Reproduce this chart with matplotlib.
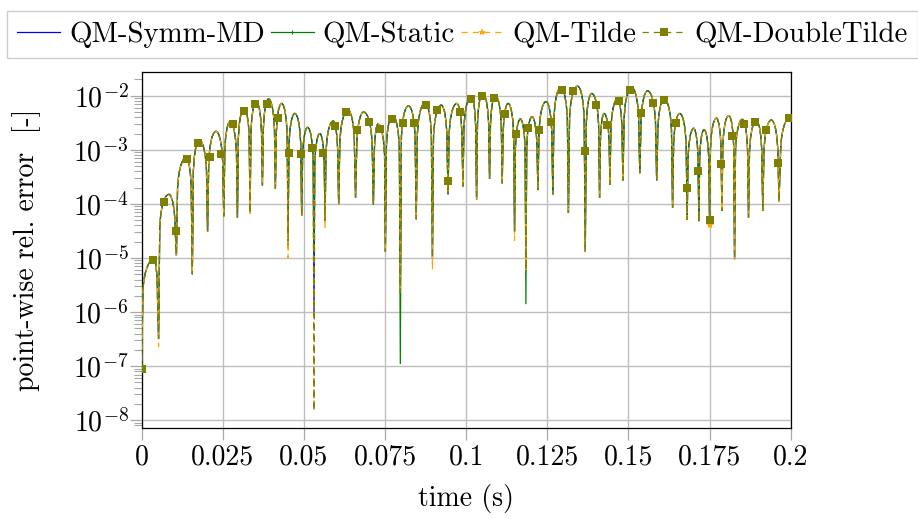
import numpy as np
import matplotlib
matplotlib.use("Agg")
import matplotlib.pyplot as plt
from matplotlib.path import Path
from matplotlib.patches import PathPatch
from matplotlib.lines import Line2D
from matplotlib.ticker import FixedLocator, FixedFormatter, NullFormatter

plt.rcParams['font.family'] = ['serif']
plt.rcParams['font.serif'] = ['cmr10', 'DejaVu Serif']
plt.rcParams['mathtext.fontset'] = 'cm'
plt.rcParams['axes.formatter.use_mathtext'] = True
plt.rcParams['axes.unicode_minus'] = False

# ---------------- data ----------------
# times (s) of the dips between arches
dip_t = [0.0, 0.0052, 0.0107, 0.0156, 0.0203, 0.0253, 0.0295, 0.0334, 0.0372, 0.0412,
         0.0451, 0.0493, 0.0531, 0.0565, 0.0607, 0.0659, 0.0714, 0.0751, 0.0797, 0.0846,
         0.0896, 0.0944, 0.0990, 0.1032, 0.1072, 0.1111, 0.1149, 0.1184, 0.1221, 0.1267,
         0.1315, 0.1367, 0.1411, 0.1443, 0.1483, 0.1535, 0.1587, 0.1636, 0.1681, 0.1717,
         0.1750, 0.1788, 0.1827, 0.1870, 0.1914, 0.1964]
# depth of each dip (QM-DoubleTilde, shared by the others unless overridden)
dip_depth = [9e-8, 3.2e-7, 1.1e-5, 5e-6, 3.1e-5, 5.9e-5, 5.6e-5, 6.7e-5, 2.2e-4, 1.9e-4,
             1.7e-5, 6e-5, 1.5e-8, 4.9e-5, 9.8e-5, 1.3e-4, 9.8e-5, 1.3e-5, 2.3e-6, 5.2e-5,
             1e-5, 1.5e-4, 2.1e-4, 1.2e-4, 2.9e-4, 2.4e-4, 3.1e-5, 6e-6, 1.8e-4, 1.5e-4,
             6.8e-5, 1.3e-5, 1.3e-4, 2.3e-4, 2.7e-4, 3.7e-4, 2.7e-4, 8.5e-5, 5.1e-5, 4.8e-5,
             4.3e-5, 7.4e-5, 9.5e-6, 5.6e-5, 7.4e-5, 1.1e-4]
depth_symm_md = {10: 2.8e-5, 12: 9e-7}
depth_static = {10: 2.8e-5, 12: 1.2e-5, 18: 1.1e-7, 27: 1.4e-6}
depth_tilde = {1: 2.3e-7, 10: 1e-5, 13: 3.6e-5, 20: 6.2e-6, 26: 2.1e-5, 40: 3.8e-5}
depth_dtilde = {}

# top of each arch
peak_t = [0.0038, 0.0084, 0.0137, 0.0178, 0.0229, 0.0272, 0.0316, 0.0353, 0.0391, 0.0431,
          0.0472, 0.0511, 0.0549, 0.0590, 0.0636, 0.0684, 0.0728, 0.0773, 0.0822, 0.0873,
          0.0923, 0.0971, 0.1016, 0.1051, 0.1090, 0.1129, 0.1167, 0.1203, 0.1246, 0.1291,
          0.1343, 0.1387, 0.1425, 0.1466, 0.1510, 0.1559, 0.1610, 0.1658, 0.1701, 0.1733,
          0.1771, 0.1809, 0.1851, 0.1894, 0.1940, 0.2000]
peak_v = [9.5e-6, 1.5e-4, 7.2e-4, 1.5e-3, 2.2e-3, 3.3e-3, 5.9e-3, 7.7e-3, 8.7e-3, 7.2e-3,
          4.7e-3, 2.6e-3, 2.0e-3, 3.4e-3, 5.4e-3, 5.0e-3, 3.0e-3, 4.3e-3, 6.5e-3, 7.3e-3,
          6.7e-3, 7.2e-3, 9.7e-3, 1.1e-2, 1.0e-2, 7.2e-3, 3.7e-3, 4.1e-3, 7.8e-3, 1.4e-2,
          1.5e-2, 1.1e-2, 4.7e-3, 8.7e-3, 1.42e-2, 1.23e-2, 8.7e-3, 4.7e-3, 2.5e-3, 2.35e-3,
          3.85e-3, 4.3e-3, 3.65e-3, 3.45e-3, 3.55e-3, 4.1e-3]

# marked samples
mark_t = [0.0, 0.0035, 0.007, 0.0105, 0.014, 0.0175, 0.021, 0.0245, 0.028, 0.0315,
          0.035, 0.0385, 0.042, 0.0455, 0.049, 0.0525, 0.056, 0.0595, 0.063, 0.0665,
          0.07, 0.0735, 0.077, 0.0805, 0.084, 0.0875, 0.091, 0.0945, 0.098, 0.1015,
          0.105, 0.1085, 0.112, 0.1155, 0.119, 0.1225, 0.126, 0.1295, 0.133, 0.1365,
          0.14, 0.1435, 0.147, 0.1505, 0.154, 0.1575, 0.161, 0.1645, 0.168, 0.1715,
          0.175, 0.1785, 0.182, 0.1855, 0.189, 0.1925, 0.196, 0.1995]
mark_dtilde = [9e-8, 9e-6, 1.1e-4, 3.1e-5, 6.8e-4, 1.35e-3, 7.3e-4, 8.5e-4, 3.0e-3, 5.2e-3,
               7.1e-3, 7.1e-3, 3.9e-3, 8.8e-4, 8.5e-4, 1.07e-3, 8.7e-4, 2.8e-3, 5.0e-3, 2.3e-3,
               3.2e-3, 2.45e-3, 3.7e-3, 3.1e-3, 3.1e-3, 6.6e-3, 5.4e-3, 2.7e-4, 5.1e-3, 8.8e-3,
               1.0e-2, 9.1e-3, 4.5e-3, 2.0e-3, 2.55e-3, 2.3e-3, 3.2e-3, 1.25e-2, 1.22e-2, 9.5e-4,
               6.6e-3, 2.9e-3, 8.0e-3, 1.29e-2, 4.8e-3, 7.4e-3, 8.2e-3, 3.1e-3, 2.0e-4, 4.0e-4,
               5.1e-5, 5.4e-4, 1.8e-3, 3.0e-3, 3.3e-3, 2.3e-3, 5.7e-4, 3.9e-3]
mark_tilde_override = {50: 4.0e-5}

series_names = ["QM-Symm-MD", "QM-Static", "QM-Tilde", "QM-DoubleTilde"]
x_ticks = [0, 0.025, 0.05, 0.075, 0.1, 0.125, 0.15, 0.175, 0.2]
x_tick_labels = ["0", "0.025", "0.05", "0.075", "0.1", "0.125", "0.15", "0.175", "0.2"]
y_ticks = [1e-8, 1e-7, 1e-6, 1e-5, 1e-4, 1e-3, 1e-2]
y_tick_labels = [r"$10^{-8}$", r"$10^{-7}$", r"$10^{-6}$", r"$10^{-5}$",
                 r"$10^{-4}$", r"$10^{-3}$", r"$10^{-2}$"]
y_minor = [m * 10.0 ** e for e in range(-9, -1) for m in range(2, 10)]

# ---------------- drawing ----------------
SH, FR, K = 0.2, 0.064, 0.55


def lerp_log(a, b, k):
    return 10 ** (np.log10(a) + k * (np.log10(b) - np.log10(a)))


def arch_path(depth_over):
    depth = [depth_over.get(i, d) for i, d in enumerate(dip_depth)]
    verts = [(dip_t[0], depth[0])]
    codes = [Path.MOVETO]
    n = len(dip_t)
    for i in range(n):
        t0 = dip_t[i]
        tp, P = peak_t[i], peak_v[i]
        last = i + 1 >= n
        t1 = 2 * tp - t0 if last else dip_t[i + 1]
        w = t1 - t0
        ts0, ys = t0 + FR * w, P * SH
        verts.append((ts0, ys)); codes.append(Path.LINETO)
        verts += [(ts0, lerp_log(ys, P, K)), (tp - K * (tp - ts0), P), (tp, P)]
        codes += [Path.CURVE4] * 3
        if last:
            break
        ts1 = t1 - FR * w
        verts += [(tp + K * (ts1 - tp), P), (ts1, lerp_log(ys, P, K)), (ts1, ys)]
        codes += [Path.CURVE4] * 3
        verts.append((t1, depth[i + 1])); codes.append(Path.LINETO)
    return Path(verts, codes)


fig = plt.figure(figsize=(9.18, 5.19), dpi=100)
ax = fig.add_axes([141.7 / 918, 1 - 428.3 / 519, (790.7 - 141.7) / 918, (428.3 - 71.7) / 519])
ax.set_yscale('log')

LW = 0.9
c_blue, c_green, c_orange, c_olive = '#0000ff', '#008000', '#ffa500', '#808000'
dash = (5, 4)

ax.add_patch(PathPatch(arch_path(depth_symm_md), fill=False, edgecolor=c_blue, lw=LW, zorder=3))
ax.add_patch(PathPatch(arch_path(depth_static), fill=False, edgecolor=c_green, lw=LW, zorder=4))
ax.plot(mark_t, mark_dtilde, ls='none', marker='+', ms=3, mew=0.7, color=c_green, zorder=4.5)
ax.add_patch(PathPatch(arch_path(depth_tilde), fill=False, edgecolor=c_orange, lw=LW,
                       linestyle=(3, dash), zorder=5))
mark_tilde = [mark_tilde_override.get(i, v) for i, v in enumerate(mark_dtilde)]
ax.plot(mark_t, mark_tilde, ls='none', marker='*', ms=6, mew=0, color=c_orange, zorder=5.5)
ax.add_patch(PathPatch(arch_path(depth_dtilde), fill=False, edgecolor=c_olive, lw=LW,
                       linestyle=(0, dash), zorder=6))
ax.plot(mark_t, mark_dtilde, ls='none', marker='s', ms=5.2, mew=0, color=c_olive, zorder=6.5)

ax.set_xlim(0, 0.2)
ax.set_ylim(7.1e-9, 2.78e-2)
ax.xaxis.set_major_locator(FixedLocator(x_ticks))
ax.xaxis.set_major_formatter(FixedFormatter(x_tick_labels))
ax.yaxis.set_major_locator(FixedLocator(y_ticks))
ax.yaxis.set_major_formatter(FixedFormatter(y_tick_labels))
ax.yaxis.set_minor_locator(FixedLocator([v for v in y_minor if 7.1e-9 <= v <= 2.78e-2]))
ax.yaxis.set_minor_formatter(NullFormatter())

ax.grid(True, which='major', color='#bebebe', lw=1.0, zorder=0)
ax.set_axisbelow(True)
tick_col = '#a8a8a8'
ax.tick_params(axis='both', which='major', direction='out', length=8.5, width=0.9,
               color=tick_col, labelsize=20, pad=3, top=False, right=False)
ax.tick_params(axis='y', which='minor', direction='out', length=6, width=0.8,
               color=tick_col, left=True, right=False)
ax.tick_params(axis='x', which='minor', bottom=False, top=False)
ax.tick_params(axis='y', which='major', pad=1)
for s in ax.spines.values():
    s.set_color('black')
    s.set_linewidth(0.9)

ax.set_xlabel('time (s)', fontsize=20)
ax.xaxis.set_label_coords(0.5, -0.155)
ax.set_ylabel('point-wise rel. error  [-]', fontsize=20)
ax.yaxis.set_label_coords(-0.155, 0.5)

handles = [
    Line2D([], [], color=c_blue, lw=LW),
    Line2D([], [], color=c_green, lw=LW, marker='+', ms=3, mew=0.7),
    Line2D([], [], color=c_orange, lw=LW, linestyle=(0, dash), marker='*', ms=6, mew=0),
    Line2D([], [], color=c_olive, lw=LW, linestyle=(0, dash), marker='s', ms=5.2, mew=0),
]
leg = fig.legend(handles, series_names, loc='upper left', bbox_to_anchor=(7 / 918, 1 - 11 / 519),
                 ncol=4, fontsize=20.8, frameon=True, fancybox=False, edgecolor='#cccccc',
                 handlelength=1.5, handletextpad=0.3, columnspacing=0.2, borderpad=0.35,
                 borderaxespad=0, numpoints=1, framealpha=1)
leg.get_frame().set_linewidth(1.0)

fig.savefig('out.png', dpi=100)
